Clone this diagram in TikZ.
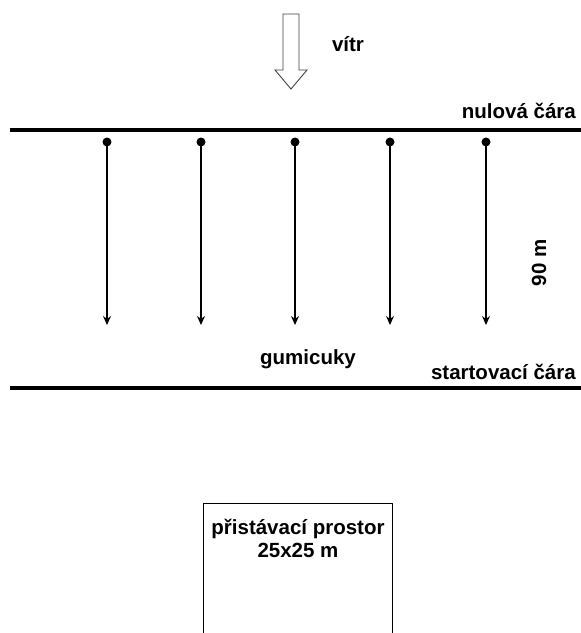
\documentclass[tikz,border=0pt]{standalone}
\usepackage{fontspec}
\setmainfont{Liberation Sans}
\usetikzlibrary{arrows.meta}
\begin{document}
\begin{tikzpicture}[x=1pt,y=-1pt,
  lbl/.style={font=\fontsize{20.5}{23}\selectfont\bfseries, inner sep=0pt},
  thick line/.style={line width=3.8pt},
  dot/.style={circle, fill=black, inner sep=0pt, minimum size=9pt},
  rubber/.style={line width=1.3pt, -{Stealth[length=9pt,width=8pt]}}]
\useasboundingbox (0,0) rectangle (581,633);
% wind arrow
\draw[line width=0.9pt, draw=black!75] (283,14) -- (299,14) -- (299,70) -- (307,70) -- (291,89) -- (275,70) -- (283,70) -- cycle;
\node[lbl] (wind) at (348,44) {vítr};
% lines
\coordinate (zl) at (10,130); \coordinate (zr) at (581,130);
\draw[thick line] (zl) -- (zr);
\node[lbl, anchor=east] (zero) at (576,111) {nulová čára};
\coordinate (sl) at (10,388); \coordinate (sr) at (581,388);
\draw[thick line] (sl) -- (sr);
\node[lbl, anchor=east] (start) at (576,372) {startovací čára};
% rubber bands
\foreach \i/\x in {1/107,2/201,3/295,4/390,5/486}{
  \node[dot] (d\i) at (\x,142) {};
  \coordinate (e\i) at (\x,325);
  \draw[rubber] (d\i.center) -- (e\i);
}
\node[lbl, rotate=90] (dist) at (539,263) {90 m};
\node[lbl] (rub) at (308,359) {gumicuky};
% landing area
\coordinate (b1) at (203,633); \coordinate (b2) at (203,503);
\coordinate (b3) at (392,503); \coordinate (b4) at (392,633);
\draw[line width=1pt] (b1) -- (b2) -- (b3) -- (b4);
\node[lbl, align=center] (land) at (298,538) {přistávací prostor\\25x25 m};
\end{tikzpicture}
\end{document}
